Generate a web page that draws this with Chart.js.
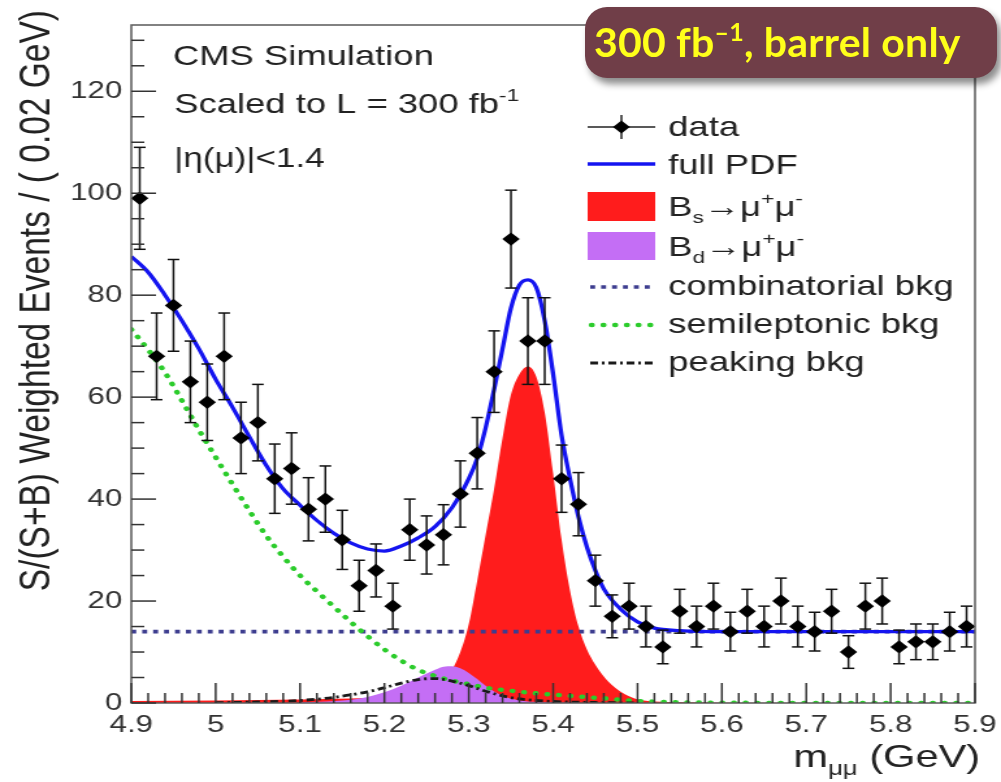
<!DOCTYPE html>
<html>
<head>
<meta charset="utf-8">
<script src="https://cdn.jsdelivr.net/npm/chart.js@4.4.1/dist/chart.umd.min.js"></script>
<style>
  html, body { margin: 0; padding: 0; background: #fff; overflow: hidden; }
  #wrap { position: absolute; left: 0; top: 0; width: 770px; height: 782px;
          transform: scaleX(1.3); transform-origin: 0 0; }
  #badge { position: absolute; left: 585px; top: 7px; width: 412px; height: 71px;
           box-sizing: border-box; padding-left: 9px; border-radius: 22px;
           background: #703e48; box-shadow: 4px 6px 7px rgba(0,0,0,0.45);
           color: #ffff1a; font: bold 41px Lato, "Open Sans", sans-serif; line-height: 70px;
           white-space: nowrap; letter-spacing: 0.2px; }
  #badge sup { font-size: 25px; line-height: 0; vertical-align: 16px; }
</style>
</head>
<body>
<div id="wrap"><canvas id="c"></canvas></div>
<div id="badge">300 fb<sup>–1</sup>, barrel only</div>
<script>
// Data points (bin centres, 0.02 GeV bins)
const binCenters = [4.91, 4.93, 4.95, 4.97, 4.99, 5.01, 5.03, 5.05, 5.07, 5.09,
                    5.11, 5.13, 5.15, 5.17, 5.19, 5.21, 5.23, 5.25, 5.27, 5.29,
                    5.31, 5.33, 5.35, 5.37, 5.39, 5.41, 5.43, 5.45, 5.47, 5.49,
                    5.51, 5.53, 5.55, 5.57, 5.59, 5.61, 5.63, 5.65, 5.67, 5.69,
                    5.71, 5.73, 5.75, 5.77, 5.79, 5.81, 5.83, 5.85, 5.87, 5.89];
const dataY = [99, 68, 78, 63, 59, 68, 52, 55, 44, 46,
               38, 40, 32, 23, 26, 19, 34, 31, 33, 41,
               49, 65, 91, 71, 71, 44, 39, 24, 17, 19,
               15, 11, 18, 15, 19, 14, 18, 15, 20, 15,
               14, 18, 10, 19, 20, 11, 12, 12, 14, 15];
const dataErr = [10, 8.5, 9, 8, 7.5, 8.5, 7, 7.5, 6.8, 7,
                 6.2, 6.5, 5.8, 5, 5.2, 4.5, 6, 5.7, 5.9, 6.5,
                 7, 8, 9.6, 8.5, 8.5, 6.6, 6.2, 5, 4.2, 4.5,
                 4, 3.3, 4.3, 4, 4.5, 3.8, 4.3, 4, 4.5, 4,
                 3.8, 4.3, 3.2, 4.5, 4.5, 3.3, 3.5, 3.5, 3.8, 4];

// full PDF
const pdfX = [4.90, 4.92, 4.94, 4.96, 4.98, 5.00, 5.02, 5.04, 5.06, 5.08, 5.10,
              5.12, 5.14, 5.16, 5.18, 5.20, 5.22, 5.24, 5.26, 5.28, 5.30,
              5.31, 5.32, 5.33, 5.34, 5.35, 5.36, 5.37, 5.38, 5.39, 5.40,
              5.41, 5.42, 5.43, 5.44, 5.45, 5.46,
              5.48, 5.50, 5.52, 5.55, 5.60, 5.70, 5.80, 5.90];
const pdfY = [87.6, 84.5, 80, 75, 69.5, 63.5, 58, 52.2, 46.6, 42, 38.8,
              35.8, 33.3, 31.4, 30.2, 29.8, 30.8, 32.4, 34.6, 38.3, 44,
              48, 54, 61.5, 69.5, 77.5, 82, 83, 81.5, 75, 64.5,
              52.5, 44, 36.5, 30.6, 26, 22.4,
              18.4, 15.9, 14.7, 14.2, 14, 14, 14, 14];

// Bs -> mu mu
const bsX = [4.90, 5.00, 5.10, 5.16, 5.20, 5.24, 5.26,
             5.27, 5.28, 5.29, 5.30, 5.31, 5.32, 5.33, 5.34, 5.35, 5.36, 5.37, 5.38,
             5.39, 5.40, 5.41, 5.42, 5.43, 5.44, 5.45, 5.46, 5.47, 5.48, 5.49, 5.50,
             5.52, 5.55, 5.60, 5.90];
const bsY = [0.4, 0.5, 0.7, 0.9, 1.2, 2.1, 3.2,
             4.5, 6.5, 10, 15.5, 24, 33, 42, 52, 60.5, 64.5, 66, 64,
             57, 45, 32, 22, 15, 10.5, 7.5, 5.2, 3.5, 2.2, 1.3, 0.7,
             0.3, 0.15, 0.05, 0];

// Bd -> mu mu
const bdX = [5.10, 5.15, 5.18, 5.20, 5.22, 5.24, 5.26, 5.27, 5.28, 5.29, 5.30, 5.31, 5.32, 5.34, 5.36, 5.40, 5.45];
const bdY = [0.1, 0.5, 1.2, 2.1, 3.4, 5.0, 6.5, 7.1, 7.2, 6.8, 5.9, 4.7, 3.4, 1.4, 0.5, 0.1, 0];

// combinatorial bkg
const combX = [4.90, 5.90];
const combY = [14, 14];

// semileptonic bkg
const slX = [4.90, 4.92, 4.94, 4.96, 4.98, 5.00, 5.02, 5.04, 5.06, 5.08, 5.10,
             5.12, 5.14, 5.16, 5.18, 5.20, 5.22, 5.24, 5.26, 5.28, 5.30,
             5.32, 5.35, 5.38, 5.42, 5.46, 5.50, 5.55, 5.60, 5.90];
const slY = [73.3, 69.3, 64.8, 59.3, 53.6, 48.2, 42.9, 37.7, 32.8, 28.7, 25.0,
             21.9, 18.9, 15.9, 13.1, 10.5, 8.3, 6.5, 5.3, 4.4, 3.7,
             3.0, 2.4, 1.9, 1.4, 0.9, 0.4, 0.15, 0.05, 0];

// peaking bkg
const pkX = [5.00, 5.05, 5.10, 5.14, 5.18, 5.20, 5.22, 5.24, 5.26, 5.28, 5.30, 5.32, 5.34, 5.36, 5.40, 5.45, 5.50];
const pkY = [0.05, 0.2, 0.5, 1.1, 2.2, 3.0, 3.9, 4.6, 4.8, 4.3, 3.4, 2.3, 1.4, 0.8, 0.3, 0.1, 0];

// axes
const xTicks = [4.9, 5.0, 5.1, 5.2, 5.3, 5.4, 5.5, 5.6, 5.7, 5.8, 5.9];
const xTickLabels = ['4.9', '5', '5.1', '5.2', '5.3', '5.4', '5.5', '5.6', '5.7', '5.8', '5.9'];
const yTicks = [0, 20, 40, 60, 80, 100, 120];

const legendLabels = ['data', 'full PDF', 'B_{s}\u2192\u03bc^{+}\u03bc^{-}', 'B_{d}\u2192\u03bc^{+}\u03bc^{-}',
                      'combinatorial bkg', 'semileptonic bkg', 'peaking bkg'];

const FONT = '"Liberation Sans", Arial, Helvetica, sans-serif';
const TXT = '#222';
const C_PDF = '#1414f0', C_BS = '#ff1c1c', C_BD = '#c46ef5', C_COMB = '#3d3d8f', C_SL = '#2ccc2c', C_PK = '#1a1a1a';
const DASH_COMB = [3.8, 4.6], DASH_SL = [0.4, 8.6], DASH_PK = [6, 3, 2, 3];

const pts = (xs, ys) => xs.map((x, i) => ({ x: x, y: ys[i] }));

function drawRich(ctx, str, x, y, size, align) {
  const segs = [];
  const re = /([_^])\{([^}]*)\}|([^_^]+)/g;
  let m;
  while ((m = re.exec(str))) {
    if (m[3]) segs.push({ t: m[3], s: size, dy: 0 });
    else segs.push({ t: m[2], s: size * 0.62, dy: m[1] === '_' ? size * 0.24 : -size * 0.42 });
  }
  let total = 0;
  segs.forEach(g => { ctx.font = `${g.s}px ${FONT}`; g.w = ctx.measureText(g.t).width; total += g.w; });
  let cx = align === 'right' ? x - total : x;
  ctx.textAlign = 'left';
  ctx.textBaseline = 'alphabetic';
  segs.forEach(g => { ctx.font = `${g.s}px ${FONT}`; ctx.fillText(g.t, cx, y + g.dy); cx += g.w; });
}

function line(ctx, x1, y1, x2, y2) {
  ctx.beginPath(); ctx.moveTo(x1, y1); ctx.lineTo(x2, y2); ctx.stroke();
}

const decor = {
  id: 'decor',
  beforeDatasetDraw(chart, args) {
    if (args.index !== 0) return;
    const { ctx, scales: { x, y } } = chart;
    ctx.save();
    ctx.strokeStyle = '#111';
    ctx.lineWidth = 1.5;
    binCenters.forEach((b, i) => {
      const px = x.getPixelForValue(b);
      const top = y.getPixelForValue(dataY[i] + dataErr[i]);
      const bot = y.getPixelForValue(dataY[i] - dataErr[i]);
      line(ctx, px, top, px, bot);
      line(ctx, px - 4.5, top, px + 4.5, top);
      line(ctx, px - 4.5, bot, px + 4.5, bot);
    });
    ctx.restore();
  },
  afterDraw(chart) {
    const { ctx, chartArea: a, scales: { x, y } } = chart;
    ctx.save();
    // frame
    ctx.strokeStyle = '#5a5a5a';
    ctx.lineWidth = 1.5;
    ctx.strokeRect(a.left, a.top, a.right - a.left, a.bottom - a.top);
    // ticks (inward)
    ctx.strokeStyle = '#333';
    for (let v = 0; v <= 130; v += 5) {
      const py = y.getPixelForValue(v);
      line(ctx, a.left, py, a.left + (v % 20 === 0 ? 19 : 10), py);
    }
    for (let k = 0; k <= 50; k++) {
      const px = x.getPixelForValue(4.9 + k * 0.02);
      line(ctx, px, a.bottom, px, a.bottom - (k % 5 === 0 ? 20 : 10));
    }
    ctx.fillStyle = TXT;
    // axis titles
    ctx.save();
    ctx.translate(29, 10);
    ctx.rotate(-Math.PI / 2);
    ctx.font = `33.5px ${FONT}`;
    ctx.textAlign = 'right';
    ctx.textBaseline = 'middle';
    ctx.fillText('S/(S+B) Weighted Events / ( 0.02 GeV)', 0, 0);
    ctx.restore();
    drawRich(ctx, 'm_{\u03bc\u03bc} (GeV)', 754, 767, 32, 'right');
    // labels
    drawRich(ctx, 'CMS Simulation', 133, 65, 28, 'left');
    drawRich(ctx, 'Scaled to L = 300 fb^{-1}', 134, 113, 28, 'left');
    drawRich(ctx, '|\u03b7(\u03bc)|<1.4', 134, 167, 27, 'left');
    // legend
    const lx1 = 452, lx2 = 504, lt = 514;
    const rows = [127, 164, 206, 246, 287, 325, 363];
    const bases = [136, 174, 216, 256, 295, 333, 371];
    // data
    ctx.strokeStyle = '#222'; ctx.lineWidth = 1.5; ctx.setLineDash([]);
    line(ctx, lx1, rows[0], lx2, rows[0]);
    line(ctx, 478, rows[0] - 12, 478, rows[0] + 12);
    ctx.fillStyle = '#000';
    ctx.beginPath();
    ctx.moveTo(478 - 6.5, rows[0]); ctx.lineTo(478, rows[0] - 6.5);
    ctx.lineTo(478 + 6.5, rows[0]); ctx.lineTo(478, rows[0] + 6.5); ctx.closePath(); ctx.fill();
    // full PDF
    ctx.strokeStyle = C_PDF; ctx.lineWidth = 3.3;
    line(ctx, lx1, rows[1], lx2, rows[1]);
    // Bs, Bd
    ctx.fillStyle = C_BS; ctx.fillRect(lx1, rows[2] - 14, lx2 - lx1, 29);
    ctx.fillStyle = C_BD; ctx.fillRect(lx1, rows[3] - 14, lx2 - lx1, 28);
    // comb
    ctx.strokeStyle = C_COMB; ctx.lineWidth = 3.6; ctx.setLineDash(DASH_COMB);
    line(ctx, lx1 + 2, rows[4], lx2, rows[4]);
    ctx.strokeStyle = C_SL; ctx.lineWidth = 4.4; ctx.lineCap = 'round'; ctx.setLineDash(DASH_SL);
    line(ctx, lx1 + 3, rows[5], lx2, rows[5]);
    ctx.lineCap = 'butt';
    ctx.strokeStyle = C_PK; ctx.lineWidth = 2.8; ctx.setLineDash(DASH_PK);
    line(ctx, lx1 + 2, rows[6], lx2, rows[6]);
    ctx.setLineDash([]);
    ctx.fillStyle = TXT;
    legendLabels.forEach((t, i) => drawRich(ctx, t, lt, bases[i], 28, 'left'));
    ctx.restore();
  }
};

Chart.defaults.font.family = FONT;
Chart.defaults.color = '#333';

new Chart(document.getElementById('c'), {
  type: 'line',
  data: {
    datasets: [
      { label: 'data', data: pts(binCenters, dataY), showLine: false, order: 0,
        pointStyle: 'rectRot', pointRadius: 6.7, pointBackgroundColor: '#000', pointBorderWidth: 0 },
      { label: 'full PDF', data: pts(pdfX, pdfY), order: 1, borderColor: C_PDF, borderWidth: 3.3,
        pointRadius: 0, cubicInterpolationMode: 'monotone' },
      { label: 'peaking bkg', data: pts(pkX, pkY), order: 2, borderColor: C_PK, borderWidth: 2.8,
        borderDash: DASH_PK, pointRadius: 0, cubicInterpolationMode: 'monotone' },
      { label: 'semileptonic bkg', data: pts(slX, slY), order: 3, borderColor: C_SL, borderWidth: 4.4,
        borderDash: DASH_SL, borderCapStyle: 'round', pointRadius: 0, cubicInterpolationMode: 'monotone' },
      { label: 'combinatorial bkg', data: pts(combX, combY), order: 4, borderColor: C_COMB, borderWidth: 3.6,
        borderDash: DASH_COMB, pointRadius: 0 },
      { label: 'Bd', data: pts(bdX, bdY), order: 5, borderWidth: 0, borderColor: 'rgba(0,0,0,0)',
        backgroundColor: C_BD, fill: 'origin', pointRadius: 0, cubicInterpolationMode: 'monotone' },
      { label: 'Bs', data: pts(bsX, bsY), order: 6, borderWidth: 0, borderColor: 'rgba(0,0,0,0)',
        backgroundColor: C_BS, fill: 'origin', pointRadius: 0, cubicInterpolationMode: 'monotone' }
    ]
  },
  options: {
    responsive: true,
    maintainAspectRatio: false,
    animation: false,
    layout: { padding: { top: 25, right: 20, left: 0, bottom: 0 } },
    plugins: { legend: { display: false }, tooltip: { enabled: false } },
    scales: {
      x: {
        type: 'linear', min: 4.9, max: 5.9,
        grid: { display: false, drawTicks: false }, border: { display: false },
        afterBuildTicks: s => { s.ticks = xTicks.map(v => ({ value: v })); },
        afterFit: s => { s.height = 79; s.paddingLeft = 0; s.paddingRight = 0; },
        ticks: { autoSkip: false, maxRotation: 0, padding: 8, color: '#333', font: { size: 24 },
                 callback: (v, i) => xTickLabels[i] }
      },
      y: {
        type: 'linear', min: 0, max: 133,
        grid: { display: false, drawTicks: false }, border: { display: false },
        afterBuildTicks: s => { s.ticks = yTicks.map(v => ({ value: v })); },
        afterFit: s => { s.width = 101; s.paddingTop = 0; s.paddingBottom = 0; },
        ticks: { padding: 7, color: '#333', font: { size: 24 } }
      }
    }
  },
  plugins: [decor]
});
</script>
</body>
</html>
